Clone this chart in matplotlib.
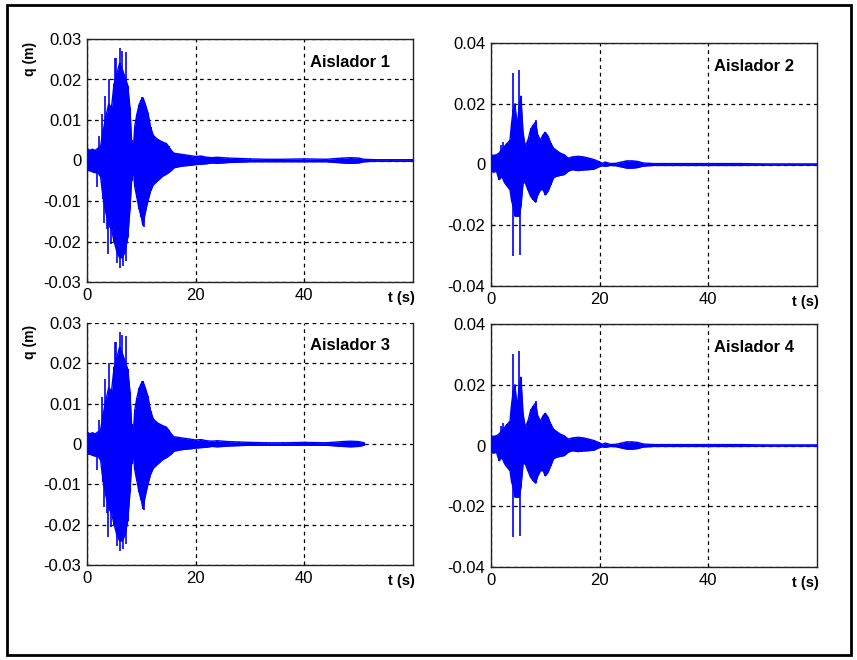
import matplotlib
matplotlib.use("Agg")
import matplotlib.pyplot as plt
from matplotlib.patches import Rectangle

plt.rcParams['font.family'] = ['Liberation Sans', 'DejaVu Sans']
plt.rcParams['axes.unicode_minus'] = False

# ---------------- data ----------------
# Aislador 1 / 3 : envelope of the displacement record (m)
t13 = [0, 0.5, 1.0, 1.5, 2.0, 2.5, 3.0, 3.5, 4.0, 4.5, 5.0, 5.5, 6.0, 6.5, 7.0,
       7.5, 7.9, 8.2, 8.5, 8.8, 9.2, 9.6, 10.0, 10.3, 10.7, 11.2, 11.7, 12.2,
       13.0, 14.0, 14.6, 15.0, 15.5, 16.0, 17.0, 18.0, 19.0, 20.0, 21.0, 22.0,
       23.0, 24.0, 26.0, 28.0, 30.0, 33.0, 36.0, 40.0, 44.0, 47.0, 48.5, 50.0,
       51.0, 53.0, 56.0, 60.0]
up13 = [0.0030, 0.0025, 0.0028, 0.0025, 0.0030, 0.0035, 0.0075, 0.0110, 0.0140,
        0.0130, 0.0190, 0.0215, 0.0240, 0.0225, 0.0205, 0.0185, 0.0130, 0.0050,
        0.0020, 0.0085, 0.0115, 0.0138, 0.0150, 0.0155, 0.0140, 0.0118, 0.0082,
        0.0062, 0.0052, 0.0045, 0.0042, 0.0035, 0.0025, 0.0018, 0.0016, 0.0014,
        0.0012, 0.0010, 0.0011, 0.0008, 0.0007, 0.0008, 0.0006, 0.0005, 0.0004,
        0.0003, 0.0003, 0.0004, 0.0003, 0.0006, 0.0007, 0.0006, 0.0003, 0.0002,
        0.0002, 0.0002]
lo13 = [-0.0025, -0.0025, -0.0028, -0.0030, -0.0030, -0.0040, -0.0095, -0.0130,
        -0.0160, -0.0170, -0.0200, -0.0225, -0.0240, -0.0240, -0.0225, -0.0190,
        -0.0120, -0.0050, -0.0020, -0.0065, -0.0092, -0.0120, -0.0140, -0.0160,
        -0.0130, -0.0100, -0.0075, -0.0060, -0.0050, -0.0038, -0.0034, -0.0030,
        -0.0025, -0.0018, -0.0015, -0.0013, -0.0012, -0.0010, -0.0009, -0.0008,
        -0.0006, -0.0007, -0.0005, -0.0004, -0.0003, -0.0003, -0.0003, -0.0003,
        -0.0003, -0.0006, -0.0007, -0.0006, -0.0003, -0.0002, -0.0002, -0.0002]
spike_t13 = [1.9, 2.2, 2.8, 3.1, 3.3, 3.6, 3.9, 4.0, 4.5, 5.1, 5.4, 5.5, 6.0, 6.1,
             6.4, 6.6, 7.1, 7.2, 10.2, 10.4]
spike_v13 = [-0.0065, 0.0060, 0.0116, -0.0155, 0.0160, -0.0170, -0.0230, 0.0200,
             -0.0205, 0.0252, 0.0252, -0.0252, -0.0265, 0.0278, 0.0270, -0.0260,
             0.0267, -0.0248, 0.0157, -0.0164]
end3 = 51.0   # record of Aislador 3 stops here

# Aislador 2 / 4
t24 = [0, 0.5, 1.0, 1.5, 2.0, 2.5, 3.0, 3.5, 3.8, 4.1, 4.4, 4.8, 5.2, 5.5, 5.9,
       6.3, 6.8, 7.3, 7.8, 8.2, 8.6, 9.1, 9.6, 10.0, 10.5, 11.0, 11.5, 12.0,
       12.7, 13.5, 14.2, 15.0, 16.0, 17.0, 18.0, 19.0, 19.8, 20.5, 21.0, 22.0,
       23.0, 24.0, 25.0, 26.0, 27.0, 28.0, 30.0, 34.0, 38.0, 42.0, 46.0, 50.0,
       55.0, 60.0]
up24 = [0.0032, 0.0030, 0.0032, 0.0038, 0.0050, 0.0060, 0.0070, 0.0080, 0.0137,
        0.0180, 0.0200, 0.0126, 0.0190, 0.0225, 0.0104, 0.0060, 0.0080, 0.0115,
        0.0130, 0.0140, 0.0098, 0.0080, 0.0098, 0.0106, 0.0093, 0.0070, 0.0054,
        0.0047, 0.0038, 0.0032, 0.0021, 0.0025, 0.0027, 0.0025, 0.0021, 0.0016,
        0.0010, 0.0004, 0.0008, 0.0003, 0.0004, 0.0008, 0.0012, 0.0012, 0.0010,
        0.0005, 0.0003, 0.0003, 0.0003, 0.0003, 0.0003, 0.0002, 0.0002, 0.0002]
lo24 = [-0.0022, -0.0025, -0.0022, -0.0050, -0.0039, -0.0060, -0.0072, -0.0083,
        -0.0120, -0.0138, -0.0170, -0.0170, -0.0170, -0.0138, -0.0060, -0.0060,
        -0.0083, -0.0105, -0.0116, -0.0124, -0.0100, -0.0083, -0.0083, -0.0100,
        -0.0088, -0.0066, -0.0044, -0.0039, -0.0036, -0.0033, -0.0022, -0.0017,
        -0.0020, -0.0018, -0.0017, -0.0015, -0.0008, -0.0004, -0.0006, -0.0003,
        -0.0004, -0.0008, -0.0012, -0.0012, -0.0010, -0.0005, -0.0003, -0.0003,
        -0.0003, -0.0003, -0.0003, -0.0002, -0.0002, -0.0002]
spike_t24 = [1.8, 2.3, 4.0, 4.1, 5.2, 5.3, 7.3, 8.2]
spike_v24 = [0.0065, 0.0073, -0.0300, 0.0300, 0.0310, -0.0297, 0.0120, 0.0148]

titles = ["Aislador 1", "Aislador 2", "Aislador 3", "Aislador 4"]
xticks = [0, 20, 40]
yticks13 = [-0.03, -0.02, -0.01, 0, 0.01, 0.02, 0.03]
ytl13 = ["-0.03", "-0.02", "-0.01", "0", "0.01", "0.02", "0.03"]
yticks24 = [-0.04, -0.02, 0, 0.02, 0.04]
ytl24 = ["-0.04", "-0.02", "0", "0.02", "0.04"]

# ---------------- figure ----------------
W, H = 857, 660
fig = plt.figure(figsize=(W / 100, H / 100), dpi=100)
fig.patch.set_facecolor('white')
fig.add_artist(Rectangle((7 / W, 1 - 655 / H), (851 - 7) / W, (655 - 5) / H,
                         transform=fig.transFigure, fill=False,
                         edgecolor='black', lw=2))

boxes = [(87, 39, 413, 282), (491, 43, 817, 286),
         (87, 323, 413, 565), (491, 324, 817, 567)]

def mk_ax(box):
    l, t, r, b = box
    return fig.add_axes([l / W, 1 - b / H, (r - l) / W, (b - t) / H])

BLUE = (0, 0, 1)

for i, box in enumerate(boxes):
    ax = mk_ax(box)
    if i in (0, 2):
        tt, uu, ll = list(t13), list(up13), list(lo13)
        st, sv = spike_t13, spike_v13
        yt, ytl, ylim = yticks13, ytl13, (-0.03, 0.03)
        if i == 2:
            keep = [k for k, v in enumerate(tt) if v <= end3]
            tt = [tt[k] for k in keep]
            uu = [uu[k] for k in keep]
            ll = [ll[k] for k in keep]
    else:
        tt, uu, ll = t24, up24, lo24
        st, sv = spike_t24, spike_v24
        yt, ytl, ylim = yticks24, ytl24, (-0.04, 0.04)

    ax.fill_between(tt, ll, uu, color=BLUE, lw=0, zorder=3)
    ax.plot(tt, uu, color=BLUE, lw=1.0, zorder=3)
    ax.plot(tt, ll, color=BLUE, lw=1.0, zorder=3)
    ax.vlines(tt, ll, uu, color=BLUE, lw=1.5, zorder=3)
    ax.vlines(st, 0, sv, color=BLUE, lw=1.2, zorder=3)

    ax.set_xlim(0, 60)
    ax.set_ylim(*ylim)
    ax.set_xticks(xticks)
    ax.set_xticklabels([str(x) for x in xticks])
    ax.set_yticks(yt)
    ax.set_yticklabels(ytl)
    ax.tick_params(direction='in', length=3, labelsize=12, pad=4, colors='black')
    ax.grid(True, color='black', linestyle=(0, (3, 3)), lw=0.9, zorder=1)
    ax.set_axisbelow(True)
    for s in ax.spines.values():
        s.set_color('#222222')
        s.set_linewidth(1.0)
    if i == 2:
        ax.spines['top'].set_visible(False)

    ax.text(0.93, 0.905, titles[i], transform=ax.transAxes, ha='right',
            va='center', fontsize=12, fontweight='bold', zorder=5)
    ax.text(1.005, -0.065, "t (s)", transform=ax.transAxes, ha='right',
            va='center', fontsize=10.5, fontweight='bold')
    if i in (0, 2):
        ax.text(-0.175, 0.92, "q (m)", transform=ax.transAxes, rotation=90,
                ha='center', va='center', fontsize=10, fontweight='bold')

fig.savefig("out.png", dpi=100)
